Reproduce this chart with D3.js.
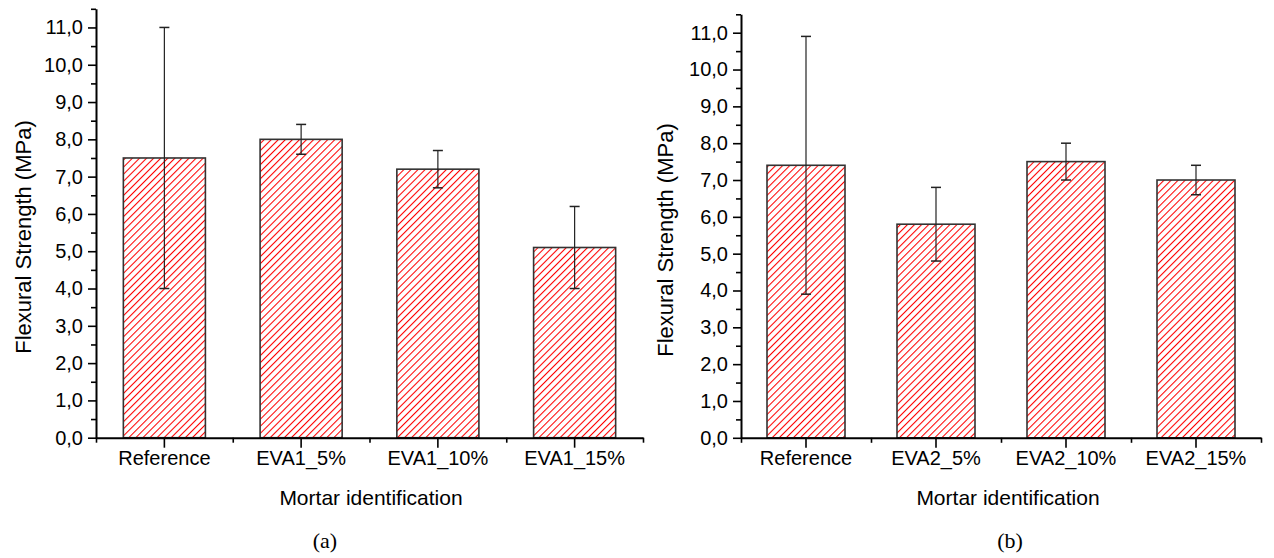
<!DOCTYPE html>
<html>
<head>
<meta charset="utf-8">
<script src="https://cdn.jsdelivr.net/npm/d3@7"></script>
<style>
  body { margin: 0; background: #fff; }
  svg { display: block; }
  text { font-family: "Liberation Sans", Arial, sans-serif; fill: #000; }
</style>
</head>
<body>
<div id="chart"></div>
<script>
// panel (a)
var categoriesA = ['Reference', 'EVA1_5%', 'EVA1_10%', 'EVA1_15%']
var meansA = [7.5, 8.0, 7.2, 5.1]
var lowA = [4.0, 7.6, 6.7, 4.0]
var highA = [11.0, 8.4, 7.7, 6.2]

// panel (b)
var categoriesB = ['Reference', 'EVA2_5%', 'EVA2_10%', 'EVA2_15%']
var meansB = [7.4, 5.8, 7.5, 7.0]
var lowB = [3.9, 4.8, 7.0, 6.6]
var highB = [10.9, 6.8, 8.0, 7.4]

var yMajor = d3.range(0, 11.01, 1)
var yMinor = d3.range(0.5, 11.51, 1)

var w = 1274
var h = 558

var svg = d3.select('#chart').append('svg')
  .attr('width', w)
  .attr('height', h)

// red diagonal hatch
var defs = svg.append('defs')
var pat = defs.append('pattern')
  .attr('id', 'hatch')
  .attr('patternUnits', 'userSpaceOnUse')
  .attr('width', 5)
  .attr('height', 5)
  .attr('patternTransform', 'rotate(45)')
pat.append('rect').attr('width', 5).attr('height', 5).attr('fill', '#fff')
pat.append('line')
  .attr('x1', 0.5).attr('y1', 0)
  .attr('x2', 0.5).attr('y2', 5)
  .attr('stroke', '#ff0000')
  .attr('stroke-width', 1.1)

function panel (opts) {
  var g = svg.append('g')

  var x = d3.scaleBand()
    .domain(opts.cats)
    .range([opts.left, opts.right])
    .paddingInner(0.4)
    .paddingOuter(0.2)

  var xEdges = d3.scaleLinear().domain([0, opts.cats.length]).range([opts.left, opts.right])

  var y = d3.scaleLinear().domain([0, 11.5]).range([opts.bottom, opts.top])

  // bars
  g.selectAll('rect.bar').data(opts.means).enter().append('rect')
    .attr('class', 'bar')
    .attr('x', function (d, i) { return x(opts.cats[i]) })
    .attr('y', function (d) { return y(d) })
    .attr('width', x.bandwidth())
    .attr('height', function (d) { return y(0) - y(d) })
    .attr('fill', 'url(#hatch)')
    .attr('stroke', '#333')
    .attr('stroke-width', 1.6)

  // error bars
  opts.cats.forEach(function (c, i) {
    var cx = x(c) + x.bandwidth() / 2
    var cap = 5
    g.append('line')
      .attr('x1', cx).attr('x2', cx)
      .attr('y1', y(opts.low[i])).attr('y2', y(opts.high[i]))
      .attr('stroke', '#222').attr('stroke-width', 1.2)
    ;[opts.low[i], opts.high[i]].forEach(function (v) {
      g.append('line')
        .attr('x1', cx - cap).attr('x2', cx + cap)
        .attr('y1', y(v)).attr('y2', y(v))
        .attr('stroke', '#222').attr('stroke-width', 1.5)
    })
  })

  // y axis
  var yAxis = d3.axisLeft(y)
    .tickValues(yMajor)
    .tickSize(8)
    .tickSizeOuter(0)
    .tickPadding(5)
    .tickFormat(function (d) { return d3.format('.1f')(d).replace('.', ',') })
  var ya = g.append('g').attr('transform', 'translate(' + opts.left + ',0)').call(yAxis)
  ya.select('.domain').attr('stroke', '#000').attr('stroke-width', 2)
  ya.selectAll('.tick line').attr('stroke-width', 1.6)
  ya.selectAll('text').style('font-size', '20px').attr('fill', '#000')

  var yMin = g.append('g').attr('transform', 'translate(' + opts.left + ',0)')
    .call(d3.axisLeft(y).tickValues(yMinor).tickSize(5).tickFormat(''))
  yMin.select('.domain').remove()
  yMin.selectAll('.tick line').attr('stroke-width', 1.6)

  // x axis
  var xAxis = d3.axisBottom(x).tickSize(10).tickSizeOuter(0).tickPadding(3)
  var xa = g.append('g').attr('transform', 'translate(0,' + opts.bottom + ')').call(xAxis)
  xa.select('.domain').attr('stroke', '#000').attr('stroke-width', 2)
  xa.selectAll('.tick line').attr('stroke-width', 1.6)
  xa.selectAll('text').style('font-size', '20px').attr('fill', '#000')

  var xMin = g.append('g').attr('transform', 'translate(0,' + opts.bottom + ')')
    .call(d3.axisBottom(xEdges).tickValues(d3.range(0, opts.cats.length + 1)).tickSize(5).tickFormat(''))
  xMin.select('.domain').remove()
  xMin.selectAll('.tick line').attr('stroke-width', 1.6)

  // titles
  g.append('text')
    .attr('transform', 'translate(' + opts.yTitleX + ',' + opts.yTitleY + ') rotate(-90)')
    .attr('text-anchor', 'middle')
    .style('font-size', '22px')
    .text('Flexural Strength (MPa)')

  g.append('text')
    .attr('x', opts.xTitleX)
    .attr('y', 505)
    .attr('text-anchor', 'middle')
    .style('font-size', '21px')
    .text('Mortar identification')

  g.append('text')
    .attr('x', opts.labelX)
    .attr('y', 548)
    .attr('text-anchor', 'middle')
    .style('font-family', '"Liberation Serif", "Times New Roman", serif')
    .style('font-size', '22px')
    .text(opts.label)
}

panel({
  cats: categoriesA, means: meansA, low: lowA, high: highA,
  left: 96, right: 643, top: 8.8, bottom: 437.7,
  yTitleX: 31, yTitleY: 237, xTitleX: 371, labelX: 325, label: '(a)'
})

panel({
  cats: categoriesB, means: meansB, low: lowB, high: highB,
  left: 741, right: 1261, top: 14.3, bottom: 437.8,
  yTitleX: 673, yTitleY: 240, xTitleX: 1008, labelX: 1010, label: '(b)'
})
</script>
</body>
</html>
